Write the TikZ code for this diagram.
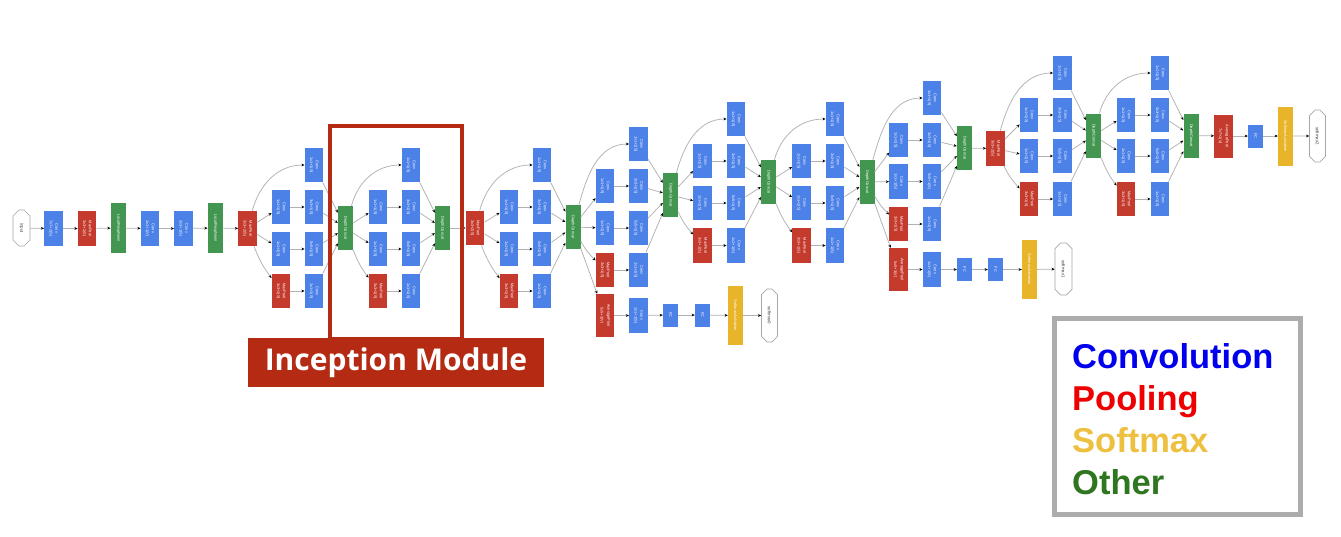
\documentclass[tikz,border=0pt]{standalone}
\usepackage{fontspec}
\setsansfont{Liberation Sans}
\newfontfamily\modfont{Open Sans}
\newfontfamily\legfont{Liberation Sans}
\usetikzlibrary{arrows.meta,shapes.misc}

\definecolor{cblue}{RGB}{76,129,232}
\definecolor{cred}{RGB}{196,58,44}
\definecolor{cgreen}{RGB}{66,150,80}
\definecolor{cyellow}{RGB}{232,180,42}
\definecolor{incred}{RGB}{181,42,18}
\definecolor{leggray}{RGB}{172,172,172}
\definecolor{lgblue}{RGB}{0,0,238}
\definecolor{lgred}{RGB}{238,0,0}
\definecolor{lgyellow}{RGB}{238,192,64}
\definecolor{lggreen}{RGB}{47,118,32}

\newcommand\ndl[2]{\rotatebox{-90}{\shortstack{#1\\#2}}}
\newcommand\ndo[1]{\rotatebox{-90}{#1}}

\tikzset{
  nd/.style={draw=none, inner sep=0pt, text=white, font=\sffamily\fontsize{3.9}{4.4}\selectfont},
  conv/.style={nd, fill=cblue, minimum width=18.5, minimum height=34.5},
  pool/.style={nd, fill=cred, minimum width=18.5, minimum height=34.5},
  apool/.style={nd, fill=cred, minimum width=18.5, minimum height=43},
  cat/.style={nd, fill=cgreen, minimum width=15, minimum height=44},
  lrn/.style={nd, fill=cgreen, minimum width=15.5, minimum height=50},
  fcn/.style={nd, fill=cblue, minimum width=15, minimum height=23},
  smax/.style={nd, fill=cyellow, minimum width=15, minimum height=59},
  outn/.style={chamfered rectangle, chamfered rectangle xsep=4pt, chamfered rectangle ysep=4pt,
    draw=gray!70, line width=0.6pt, fill=white, inner sep=0pt, minimum width=16, minimum height=50,
    text=black!75, font=\sffamily\fontsize{4.4}{5}\selectfont},
  edge/.style={draw=gray!60, line width=0.75pt, -{Stealth[length=3.2pt,width=2.8pt,color=black]}},
}

% inception module: #1 prefix, #2 source, #3 col A x, #4 col B x, #5..#8 row y
\newcommand\incmod[8]{%
  \node[conv] (#1b1) at (#4,#5) {\ndl{Conv}{1x1+1(S)}};
  \node[conv] (#1a2) at (#3,#6) {\ndl{Conv}{1x1+1(S)}};
  \node[conv] (#1b2) at (#4,#6) {\ndl{Conv}{3x3+1(S)}};
  \node[conv] (#1a3) at (#3,#7) {\ndl{Conv}{1x1+1(S)}};
  \node[conv] (#1b3) at (#4,#7) {\ndl{Conv}{5x5+1(S)}};
  \node[pool] (#1a4) at (#3,#8) {\ndl{MaxPool}{3x3+1(S)}};
  \node[conv] (#1b4) at (#4,#8) {\ndl{Conv}{1x1+1(S)}};
  \draw[edge] (#2) to[out=75,in=180] (#1b1);
  \draw[edge] (#2) -- (#1a2);
  \draw[edge] (#2) -- (#1a3);
  \draw[edge] (#2) to[bend right=8] (#1a4);
  \draw[edge] (#1a2) -- (#1b2);
  \draw[edge] (#1a3) -- (#1b3);
  \draw[edge] (#1a4) -- (#1b4);
}
% concat: #1 prefix, #2 x, #3 y
\newcommand\incjoin[3]{%
  \node[cat] (#1c) at (#2,#3) {\ndo{DepthConcat}};
  \foreach \k in {1,2,3,4} {\draw[edge] (#1b\k) -- (#1c);}
}

\begin{document}
\begin{tikzpicture}[x=1pt,y=1pt]
\useasboundingbox (0,0) rectangle (1341,-536);
\fill[white] (0,0) rectangle (1341,-536);

% stem
\node[outn, minimum height=36, minimum width=17] (inp) at (21.5,-228) {\ndo{input}};
\node[conv] (c1) at (53.5,-228.5) {\ndl{Conv}{7x7+2(S)}};
\node[pool] (mp1) at (87,-228.5) {\ndl{MaxPool}{3x3+2(S)}};
\node[lrn] (lrn1) at (118.5,-228) {\ndo{LocalRespNorm}};
\node[conv] (c2) at (150,-228.5) {\ndl{Conv}{1x1+1(V)}};
\node[conv] (c3) at (183.5,-228.5) {\ndl{Conv}{3x3+1(S)}};
\node[lrn] (lrn2) at (215.5,-228) {\ndo{LocalRespNorm}};
\node[pool] (mp2) at (247.5,-228.5) {\ndl{MaxPool}{3x3+2(S)}};
\draw[edge] (inp) -- (c1);
\draw[edge] (c1) -- (mp1);
\draw[edge] (mp1) -- (lrn1);
\draw[edge] (lrn1) -- (c2);
\draw[edge] (c2) -- (c3);
\draw[edge] (c3) -- (lrn2);
\draw[edge] (lrn2) -- (mp2);

% 3a, 3b
\incmod{pa}{mp2}{281}{314}{-165}{-207}{-249}{-291}
\incjoin{pa}{345.5}{-228}
\incmod{pb}{pac}{378}{411}{-165}{-207}{-249}{-291}
\incjoin{pb}{442.5}{-228}
\node[pool] (mp3) at (475,-228) {\ndl{MaxPool}{3x3+2(S)}};
\draw[edge] (pbc) -- (mp3);

% 4a
\incmod{pc}{mp3}{509}{542}{-165}{-207}{-249}{-291}
\incjoin{pc}{573}{-227}

% 4b + aux0
\incmod{pd}{pcc}{605}{638.5}{-144}{-186}{-228}{-270}
\incjoin{pd}{670.5}{-195}
\node[apool] (x0p) at (605,-315.5) {\ndl{AveragePool}{5x5+3(V)}};
\node[conv] (x0c) at (638.5,-315.5) {\ndl{Conv}{1x1+1(S)}};
\node[fcn] (x0f1) at (670.5,-315) {\ndo{FC}};
\node[fcn] (x0f2) at (702.5,-315) {\ndo{FC}};
\node[smax] (x0s) at (735.5,-315.5) {\ndo{SoftmaxActivation}};
\node[outn, minimum height=53, minimum width=16] (x0o) at (769.5,-315.5) {\ndo{softmax0}};
\draw[edge] (pcc) -- (x0p);
\draw[edge] (x0p) -- (x0c);
\draw[edge] (x0c) -- (x0f1);
\draw[edge] (x0f1) -- (x0f2);
\draw[edge] (x0f2) -- (x0s);
\draw[edge] (x0s) -- (x0o);

% 4c, 4d
\incmod{pe}{pdc}{702.5}{736}{-119}{-161}{-203}{-245.5}
\incjoin{pe}{768.5}{-182}
\incmod{pf}{pec}{801.5}{835}{-119}{-161}{-203}{-245.5}
\incjoin{pf}{867}{-182}

% 4e + aux1
\incmod{pg}{pfc}{898.5}{932}{-98}{-140}{-181.5}{-224}
\incjoin{pg}{964.5}{-148}
\node[apool] (x1p) at (898.5,-269.5) {\ndl{AveragePool}{5x5+3(V)}};
\node[conv] (x1c) at (932,-269.5) {\ndl{Conv}{1x1+1(S)}};
\node[fcn] (x1f1) at (964.5,-269.5) {\ndo{FC}};
\node[fcn] (x1f2) at (995.5,-269.5) {\ndo{FC}};
\node[smax] (x1s) at (1029.5,-269.5) {\ndo{SoftmaxActivation}};
\node[outn, minimum height=52, minimum width=17] (x1o) at (1063.5,-269) {\ndo{softmax1}};
\draw[edge] (pfc) -- (x1p);
\draw[edge] (x1p) -- (x1c);
\draw[edge] (x1c) -- (x1f1);
\draw[edge] (x1f1) -- (x1f2);
\draw[edge] (x1f2) -- (x1s);
\draw[edge] (x1s) -- (x1o);

\node[pool] (mp4) at (995.5,-148.5) {\ndl{MaxPool}{3x3+2(S)}};
\draw[edge] (pgc) -- (mp4);

% 5a, 5b
\incmod{ph}{mp4}{1029}{1062.5}{-73}{-115}{-156}{-199}
\incjoin{ph}{1093.5}{-135.5}
\incmod{pk}{phc}{1126}{1160}{-73}{-115}{-156}{-199}
\incjoin{pk}{1191}{-135.5}

% head
\node[apool] (apf) at (1223.5,-136) {\ndl{AveragePool}{7x7+1(V)}};
\node[fcn] (fcf) at (1255.5,-136) {\ndo{FC}};
\node[smax] (smf) at (1285.5,-136) {\ndo{SoftmaxActivation}};
\node[outn, minimum height=52, minimum width=16] (x2o) at (1317.5,-136) {\ndo{softmax2}};
\draw[edge] (pkc) -- (apf);
\draw[edge] (apf) -- (fcf);
\draw[edge] (fcf) -- (smf);
\draw[edge] (smf) -- (x2o);

% inception module highlight
\draw[incred, line width=4pt] (330,-126) rectangle (462,-339);
\node[fill=incred, minimum width=296, minimum height=49, inner sep=0pt, text=white,
  font=\modfont\bfseries\fontsize{30}{33}\selectfont] (imlabel) at (396,-362.5) {Inception Module};

% legend
\draw[leggray, line width=5pt] (1054.5,-318) rectangle (1300.5,-514.5);
\begin{scope}[every node/.style={anchor=base west, inner sep=0pt, font=\legfont\bfseries\fontsize{34.5}{38}\selectfont}]
\node[text=lgblue] (lg1) at (1072,-368) {Convolution};
\node[text=lgred] (lg2) at (1072,-410) {Pooling};
\node[text=lgyellow] (lg3) at (1072,-452) {Softmax};
\node[text=lggreen] (lg4) at (1072,-494) {Other};
\end{scope}
\end{tikzpicture}
\end{document}
